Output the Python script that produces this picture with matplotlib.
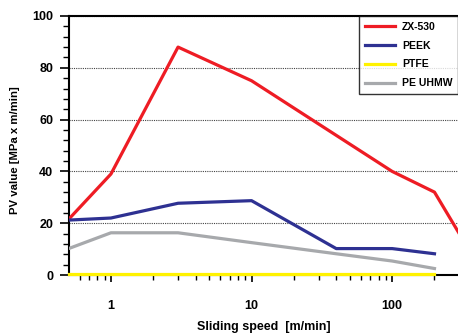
import matplotlib.pyplot as plt
from matplotlib.ticker import FixedLocator, NullFormatter, LogLocator

plt.rcParams['font.family'] = ['Liberation Sans', 'DejaVu Sans']
plt.rcParams['font.weight'] = 'bold'

# data
zx_speed = [0.5, 1, 3, 10, 100, 200, 300]
zx_pv = [21.5, 39, 88, 75, 40, 32, 16]
peek_speed = [0.5, 1, 3, 10, 40, 100, 200]
peek_pv = [21.2, 22, 27.7, 28.7, 10.2, 10.2, 8.2]
ptfe_speed = [0.5, 200]
ptfe_pv = [0.5, 0.5]
pe_speed = [0.5, 1, 3, 10, 40, 100, 200]
pe_pv = [10.2, 16.3, 16.3, 12.5, 8.2, 5.4, 2.5]

fig = plt.figure(figsize=(4.58, 3.36), dpi=100)
ax = fig.add_axes([69/458, 1-275/336, 1-69/458, (275-16)/336])

ax.plot(zx_speed, zx_pv, color='#ee1c24', lw=2.3, label='ZX-530', zorder=4)
ax.plot(peek_speed, peek_pv, color='#2e3192', lw=2.3, label='PEEK', zorder=4)
ax.plot(ptfe_speed, ptfe_pv, color='#fff200', lw=2.3, label='PTFE', zorder=5, clip_on=False)
ax.plot(pe_speed, pe_pv, color='#a7a9ac', lw=2.3, label='PE UHMW', zorder=3)

ax.set_xscale('log')
ax.set_xlim(0.503, 294)
ax.set_ylim(0, 100)

ax.set_yticks([0, 20, 40, 60, 80, 100])
ax.yaxis.set_minor_locator(FixedLocator([v for v in range(0, 101, 4)]))
ax.xaxis.set_major_locator(FixedLocator([1, 10, 100]))
ax.set_xticklabels(['1', '10', '100'])
ax.xaxis.set_minor_locator(LogLocator(base=10, subs=range(2, 10)))
ax.xaxis.set_minor_formatter(NullFormatter())

ax.tick_params(axis='y', which='major', direction='out', length=6.5, width=1.2, pad=5, labelsize=9)
ax.tick_params(axis='y', which='minor', direction='out', length=4, width=1.0)
ax.tick_params(axis='x', which='major', direction='out', length=5, width=1.2, pad=13, labelsize=9)
ax.tick_params(axis='x', which='minor', direction='out', length=3.5, width=1.0)

ax.grid(axis='y', which='major', color='#444444', lw=0.8, linestyle=(0, (1, 1)))
for s in ['left', 'bottom', 'top']:
    ax.spines[s].set_linewidth(1.5)
ax.spines['right'].set_visible(False)

fig.text(264/458, 1-327/336, 'Sliding speed  [m/min]', fontsize=9, fontweight='bold',
         ha='center', va='center')
fig.text(15/458, 1-150/336, 'PV value [MPa x m/min]', fontsize=8.2, fontweight='bold',
         ha='center', va='center', rotation=90)

leg = ax.legend(loc='upper right', fontsize=7.5, frameon=True, fancybox=False,
                edgecolor='black', handlelength=2.9, borderaxespad=0, labelspacing=0.85,
                borderpad=0.55, handletextpad=0.65)
leg.get_frame().set_linewidth(1.0)
for t in leg.get_texts():
    t.set_fontweight('bold')

fig.savefig('out.png', dpi=100)
